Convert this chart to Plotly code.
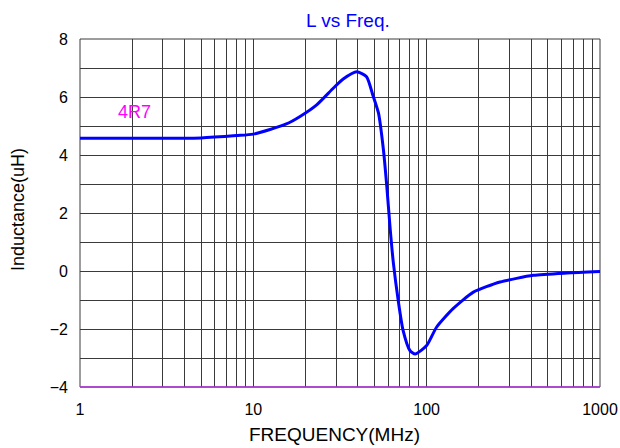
import plotly.graph_objects as go

freq_mhz = [1, 2, 3, 5, 8, 10, 15.5, 18.6, 23.2, 29, 33, 39.5, 45, 49, 52.7, 56.3, 58.9, 61.5,
            64.3, 68.5, 73.1, 80, 85.9, 100, 114, 142, 186, 265, 413, 645, 1000]
inductance_uh = [4.58, 4.58, 4.58, 4.59, 4.67, 4.72, 5.07, 5.33, 5.73, 6.31, 6.62, 6.87, 6.70, 6.05,
                 5.45, 4.18, 2.91, 1.5, 0.26, -1.01, -2.05, -2.74, -2.86, -2.57, -1.94, -1.30,
                 -0.73, -0.38, -0.15, -0.07, -0.02]

x_ticks = [1, 10, 100, 1000]
x_minor = [m * d for d in (1, 10, 100) for m in range(2, 10)]
y_ticks = [-4, -2, 0, 2, 4, 6, 8]

W, H = 620, 448
L, R, T, B = 80, 20, 39, 61
pw, ph = W - L - R, H - T - B


def px_x(px):
    return (px - L) / pw


def px_y(py):
    return (T + ph - py) / ph


FONT = "Liberation Sans, Arial"
fig = go.Figure()
fig.add_trace(go.Scatter(x=freq_mhz, y=inductance_uh, mode="lines",
                         line=dict(color="#0000FF", width=3, shape="spline", smoothing=0.6),
                         showlegend=False, hoverinfo="skip"))
fig.add_annotation(x=0.312, y=5.47, xref="x", yref="y", text="4R7", showarrow=False,
                   font=dict(color="#FF00FF", size=18, family=FONT))
fig.add_annotation(x=px_x(334), y=px_y(434), xref="paper", yref="paper",
                   text="FREQUENCY(MHz)", showarrow=False, xanchor="center", yanchor="middle",
                   font=dict(size=19, family=FONT, color="black"))
fig.add_annotation(x=px_x(18), y=px_y(210), xref="paper", yref="paper",
                   text="Inductance(uH)", showarrow=False, textangle=-90,
                   xanchor="center", yanchor="middle",
                   font=dict(size=18, family=FONT, color="black"))
fig.add_annotation(x=px_x(348), y=px_y(20), xref="paper", yref="paper",
                   text="L vs Freq.", showarrow=False, xanchor="center", yanchor="middle",
                   font=dict(size=19, family=FONT, color="#0000FF"))

grid = "#3a3a3a"
fig.update_layout(
    width=W, height=H,
    margin=dict(l=L, r=R, t=T, b=B),
    paper_bgcolor="white", plot_bgcolor="white",
    font=dict(family=FONT, size=16, color="black"),
    xaxis=dict(type="log", range=[0, 3], tickvals=x_ticks, ticktext=[str(v) for v in x_ticks],
               showgrid=True, gridcolor=grid, gridwidth=1, automargin=False,
               minor=dict(tickvals=x_minor, showgrid=True, gridcolor=grid, gridwidth=1, ticks=""),
               showline=False, zeroline=False, ticks="", ticklabelstandoff=11),
    yaxis=dict(range=[-4, 8], tickvals=y_ticks, showgrid=True, gridcolor=grid, gridwidth=1,
               minor=dict(dtick=1, showgrid=True, gridcolor=grid, gridwidth=1, ticks=""),
               zeroline=False, showline=False, ticks="", ticklabelstandoff=11, automargin=False),
)
fig.add_shape(type="rect", xref="paper", yref="paper", x0=0, y0=0, x1=1, y1=1,
              line=dict(color=grid, width=1), layer="below")
fig.add_shape(type="line", xref="paper", yref="paper", x0=0, y0=0, x1=1, y1=0,
              line=dict(color="#B030E0", width=1.5))
fig.write_html("out.html", config={"displayModeBar": False},
               post_script="document.body.style.margin='0';document.body.style.overflow='hidden';")
